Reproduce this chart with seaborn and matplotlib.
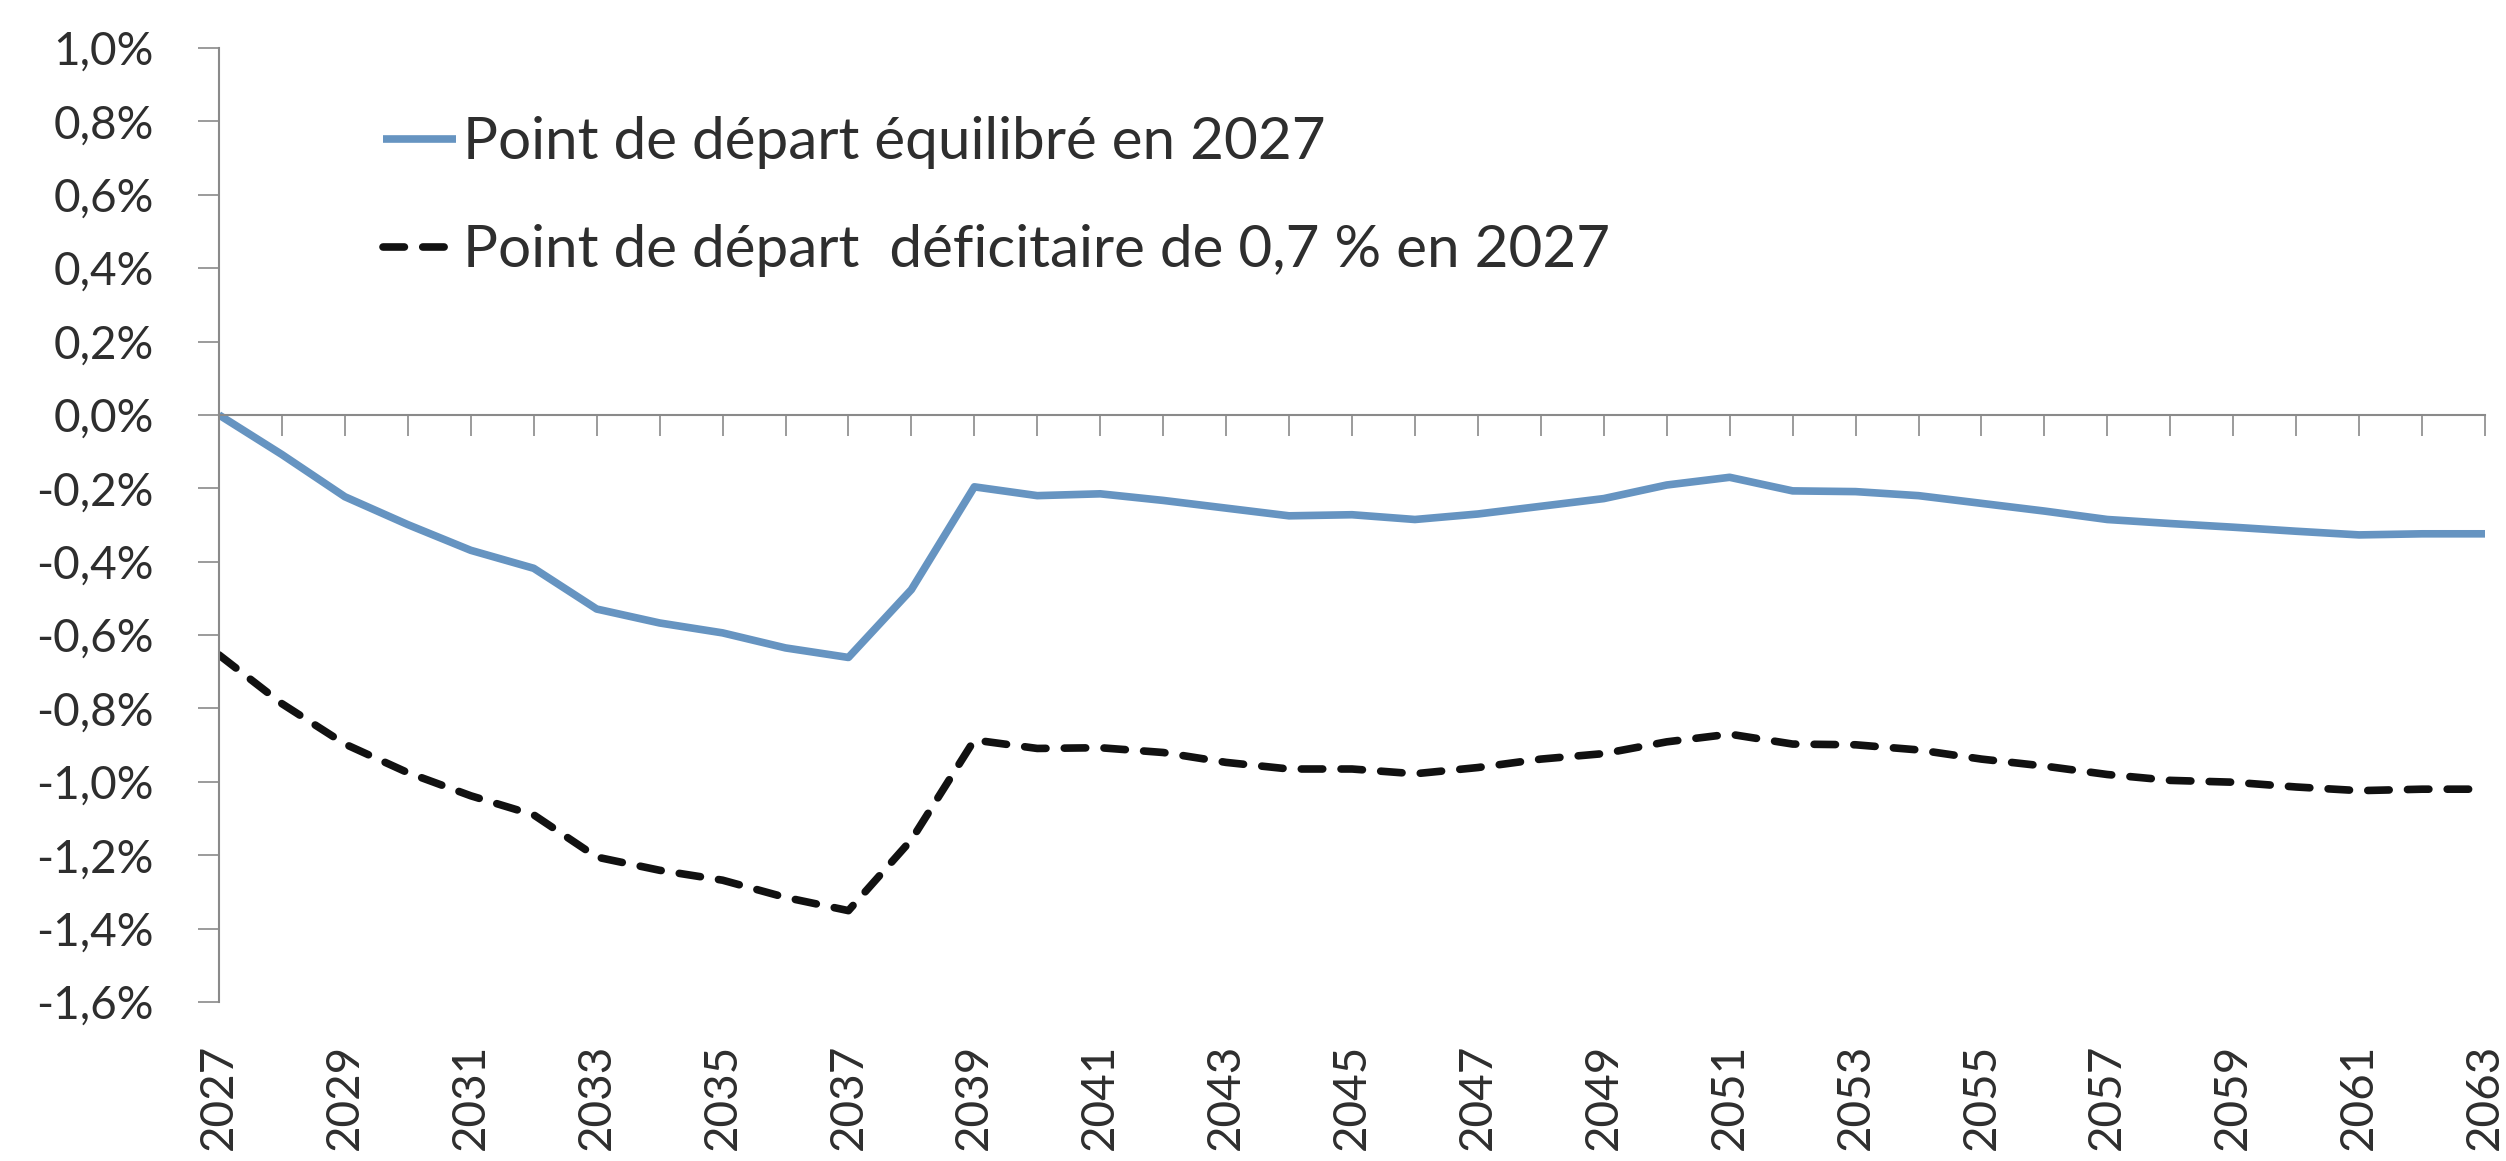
import numpy as np
import pandas as pd
import seaborn as sns
import matplotlib
matplotlib.use('Agg')
import matplotlib.pyplot as plt
from matplotlib.ticker import FixedLocator, FuncFormatter

# données (solde, en % du PIB)
years = list(range(2027, 2064))
equilibre = [0.00, -0.108, -0.223, -0.299, -0.369, -0.418, -0.529, -0.567, -0.594, -0.635,
             -0.661, -0.476, -0.196, -0.220, -0.215, -0.233, -0.254, -0.275, -0.272, -0.285,
             -0.270, -0.249, -0.228, -0.191, -0.170, -0.207, -0.209, -0.220, -0.241, -0.262,
             -0.285, -0.296, -0.306, -0.317, -0.327, -0.324, -0.324]
deficitaire = [-0.654, -0.787, -0.897, -0.975, -1.038, -1.090, -1.205, -1.241, -1.268, -1.315,
               -1.351, -1.158, -0.886, -0.909, -0.907, -0.920, -0.947, -0.965, -0.965, -0.978,
               -0.961, -0.938, -0.923, -0.891, -0.870, -0.897, -0.899, -0.913, -0.938, -0.957,
               -0.980, -0.996, -1.001, -1.014, -1.024, -1.020, -1.020]
labels = ["Point de départ équilibré en 2027",
          "Point de départ  déficitaire de 0,7 % en 2027"]
yticks = [1.0, 0.8, 0.6, 0.4, 0.2, 0.0, -0.2, -0.4, -0.6, -0.8, -1.0, -1.2, -1.4, -1.6]
year_labels = list(range(2027, 2064, 2))

df = pd.DataFrame({'annee': years, 'equilibre': equilibre, 'deficitaire': deficitaire})


def pct(v, pos):
    s = f"{abs(v):.1f}".replace('.', ',') + "%"
    return ("-" + s) if v < -1e-9 else s


sns.set_theme(style="white")
plt.rcParams['font.family'] = ['Lato', 'DejaVu Sans']
text_col = '#2e2e2e'
axis_col = '#8a8a8a'

fig = plt.figure(figsize=(25.06, 11.61), dpi=100)
ax = fig.add_axes([219 / 2506, 1 - 1002 / 1161, (2485 - 219) / 2506, (1002 - 48) / 1161])

sns.lineplot(data=df, x='annee', y='equilibre', ax=ax, color='#6694c1', lw=5.5,
             label=labels[0], solid_capstyle='butt')
sns.lineplot(data=df, x='annee', y='deficitaire', ax=ax, color='#111111', lw=5.5,
             ls=(0, (2.8, 2.4)), dash_capstyle='round', label=labels[1])

ax.set_xlim(2027, 2063)
ax.set_ylim(-1.6, 1.0)
ax.set_xlabel('')
ax.set_ylabel('')

for s in ['top', 'right']:
    ax.spines[s].set_visible(False)
ax.spines['left'].set_color(axis_col)
ax.spines['left'].set_linewidth(1.5)
ax.spines['bottom'].set_position(('data', 0))
ax.spines['bottom'].set_color(axis_col)
ax.spines['bottom'].set_linewidth(1.5)

# axe horizontal à zéro : une graduation par année, sans étiquette
ax.xaxis.set_major_locator(FixedLocator(years))
ax.tick_params(axis='x', direction='out', length=15, width=1.2, color=axis_col,
               labelbottom=False, bottom=True)

ax.yaxis.set_major_locator(FixedLocator(yticks))
ax.yaxis.set_major_formatter(FuncFormatter(pct))
ax.tick_params(axis='y', direction='out', length=15, width=1.2, color=axis_col,
               left=True, pad=32, labelsize=33, labelcolor=text_col)

# étiquettes des années en bas du graphique
sec = ax.secondary_xaxis('bottom')
sec.spines['bottom'].set_visible(False)
sec.xaxis.set_major_locator(FixedLocator(year_labels))
sec.xaxis.set_major_formatter(FuncFormatter(lambda v, p: f"{int(round(v))}"))
sec.tick_params(axis='x', length=0, pad=30, labelsize=33, labelcolor=text_col, labelrotation=90)

leg = ax.legend(loc='upper left', bbox_to_anchor=((383 - 219) / (2485 - 219), (1002 - 116) / (1002 - 48)),
                frameon=False, fontsize=42, handlelength=1.25, handletextpad=0.12,
                labelspacing=0.95, borderpad=0, borderaxespad=0)
for t in leg.get_texts():
    t.set_color(text_col)

fig.savefig('out.png', dpi=100)
